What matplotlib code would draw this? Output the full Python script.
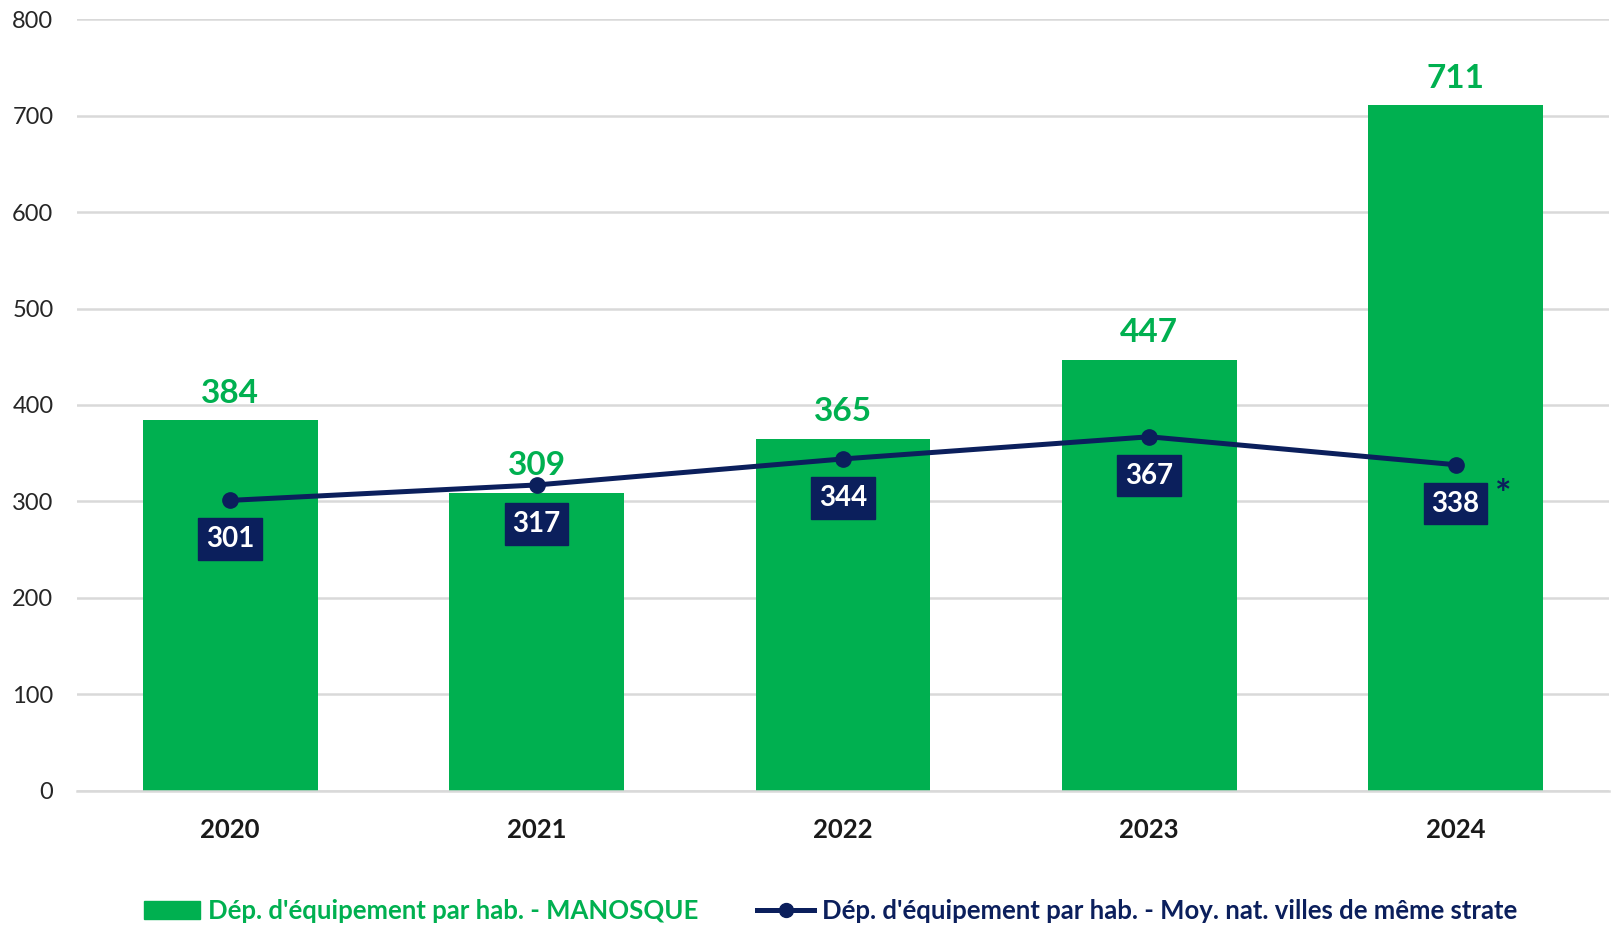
import matplotlib
matplotlib.use("Agg")
import matplotlib.pyplot as plt
from matplotlib.patches import Patch
from matplotlib.lines import Line2D

years = ["2020", "2021", "2022", "2023", "2024"]
manosque = [384, 309, 365, 447, 711]
moyenne = [301, 317, 344, 367, 338]
yticks = [0, 100, 200, 300, 400, 500, 600, 700, 800]
label_bar = "Dép. d'équipement par hab. - MANOSQUE"
label_line = "Dép. d'équipement par hab. - Moy. nat. villes de même strate"

GREEN = "#00b050"
NAVY = "#0b1f5c"
GRID = "#d9d9d9"

plt.rcParams['font.family'] = ['Lato', 'DejaVu Sans']

fig = plt.figure(figsize=(16.12, 9.25), dpi=100)
ax = fig.add_axes([0.0478, 0.1454, 0.9502, 0.8336])

x = list(range(len(years)))
ax.bar(x, manosque, width=0.57, color=GREEN, zorder=2)
ax.plot(x, moyenne, color=NAVY, lw=3.6, marker='o', markersize=11, zorder=3)

ax.set_xlim(-0.5, len(years) - 0.5)
ax.set_ylim(0, 800)
ax.set_yticks(yticks)
ax.yaxis.grid(True, color=GRID, lw=1.8, zorder=0)
ax.set_axisbelow(True)
for s in ["top", "right", "left"]:
    ax.spines[s].set_visible(False)
ax.spines["bottom"].set_color(GRID)
ax.spines["bottom"].set_linewidth(1.8)
ax.tick_params(axis='both', length=0)
ax.tick_params(axis='y', labelsize=17, colors='#262626', pad=17)
ax.set_xticks(x)
ax.set_xticklabels(years, fontsize=18.5, fontweight='bold', color='#1a1a1a')
ax.tick_params(axis='x', pad=20)

for xi, v in zip(x, manosque):
    ax.annotate(str(v), (xi, v), xytext=(0, 9), textcoords='offset points',
                ha='center', va='bottom', fontsize=24, fontweight='bold', color=GREEN)

for xi, v in zip(x, moyenne):
    ax.annotate(str(v), (xi, v), xytext=(0, -28), textcoords='offset points',
                ha='center', va='center', fontsize=20, fontweight='bold', color='white',
                bbox=dict(boxstyle='square,pad=0.28', fc=NAVY, ec=NAVY), zorder=4)

ax.annotate("*", (x[-1], moyenne[-1]), xytext=(34, -22), textcoords='offset points',
            ha='center', va='center', fontsize=28, fontweight='bold', color=NAVY)

handles = [Patch(facecolor=GREEN, edgecolor=GREEN),
           Line2D([0], [0], color=NAVY, lw=3.6, marker='o', markersize=10)]
leg = fig.legend(handles, [label_bar, label_line], loc='center', bbox_to_anchor=(0.515, 0.015),
                 ncol=2, frameon=False, prop={'size': 18.5, 'weight': 'bold'},
                 handlelength=2.2, handletextpad=0.3, columnspacing=2.3)
for t, c in zip(leg.get_texts(), [GREEN, NAVY]):
    t.set_color(c)

fig.savefig("out.png", dpi=100)
